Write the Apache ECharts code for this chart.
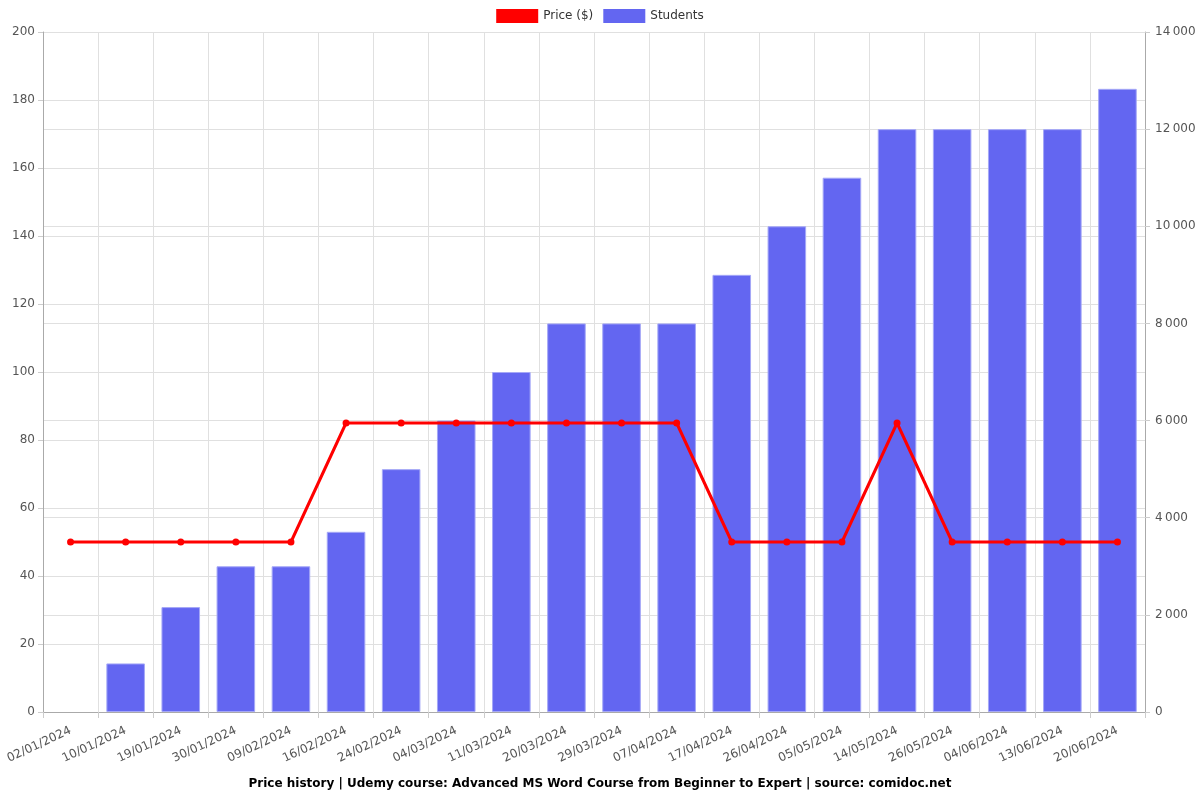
<!DOCTYPE html>
<html><head><meta charset="utf-8">
<script src="https://cdn.jsdelivr.net/npm/echarts@6/dist/echarts.min.js"></script>
<style>html,body{margin:0;padding:0;background:#fff}#c{width:1200px;height:800px}</style>
</head><body><div id="c"></div>
<script>
const categories = ["02/01/2024","10/01/2024","19/01/2024","30/01/2024","09/02/2024","16/02/2024","24/02/2024","04/03/2024","11/03/2024","20/03/2024","29/03/2024","07/04/2024","17/04/2024","26/04/2024","05/05/2024","14/05/2024","26/05/2024","04/06/2024","13/06/2024","20/06/2024"];
const price = [50,50,50,50,50,85,85,85,85,85,85,85,50,50,50,85,50,50,50,50];
const students = [0,1000,2160,3000,3000,3710,5000,6000,7000,8000,8000,8000,9000,10000,11000,12000,12000,12000,12000,12830];
const chart = echarts.init(document.getElementById('c'));
const font = 'DejaVu Sans';
const barData = students.map(v => v === 0 ? {value: v, itemStyle: {borderWidth: 0}} : v);
chart.setOption({
  animation: false,
  textStyle: {fontFamily: font},
  title: {text: 'Price history | Udemy course: Advanced MS Word Course from Beginner to Expert | source: comidoc.net', left: 'center', bottom: 5, textStyle: {fontSize: 12, fontWeight: 'bold', color: '#000', fontFamily: font}},
  legend: {top: 4, itemWidth: 42, itemHeight: 14, itemGap: 10, textStyle: {fontSize: 12, color: '#333', fontFamily: font},
    data: [{name: 'Price ($)', icon: 'rect', itemStyle: {borderWidth: 0}}, {name: 'Students', icon: 'rect', itemStyle: {borderWidth: 0}}]},
  grid: {left: 43, right: 55, top: 32, bottom: 88, containLabel: false},
  xAxis: {type: 'category', data: categories, boundaryGap: true,
    axisLine: {lineStyle: {color: '#aaa'}}, axisTick: {show: true, alignWithLabel: false, length: 6, lineStyle: {color: '#ccc'}},
    splitLine: {show: true, lineStyle: {color: '#e0e0e0'}},
    axisLabel: {rotate: 25, interval: 0, fontSize: 12, color: '#555', fontFamily: font, margin: 18}},
  yAxis: [
    {type: 'value', min: 0, max: 200, interval: 20, position: 'left',
     axisLine: {show: true, lineStyle: {color: '#aaa'}}, axisTick: {show: true, lineStyle: {color: '#ccc'}},
     splitLine: {lineStyle: {color: '#e0e0e0'}}, axisLabel: {fontSize: 12, color: '#555', fontFamily: font}},
    {type: 'value', min: 0, max: 14000, interval: 2000, position: 'right',
     axisLine: {show: true, lineStyle: {color: '#aaa'}}, axisTick: {show: true, lineStyle: {color: '#ccc'}},
     splitLine: {lineStyle: {color: '#e0e0e0'}},
     axisLabel: {fontSize: 12, color: '#555', fontFamily: font, margin: 10, formatter: v => String(v).replace(/\B(?=(\d{3})+(?!\d))/g, '\u2009')}}
  ],
  series: [
    {name: 'Price ($)', type: 'line', yAxisIndex: 0, data: price, color: '#ff0000', z: 3,
     lineStyle: {width: 3, color: '#ff0000'}, symbol: 'circle', symbolSize: 7, itemStyle: {color: '#ff0000'}},
    {name: 'Students', type: 'bar', yAxisIndex: 1, data: barData, color: '#6366f1', barWidth: '70%',
     itemStyle: {color: '#6366f1', borderColor: '#a5a8f7', borderWidth: 1}}
  ]
});
</script></body></html>
